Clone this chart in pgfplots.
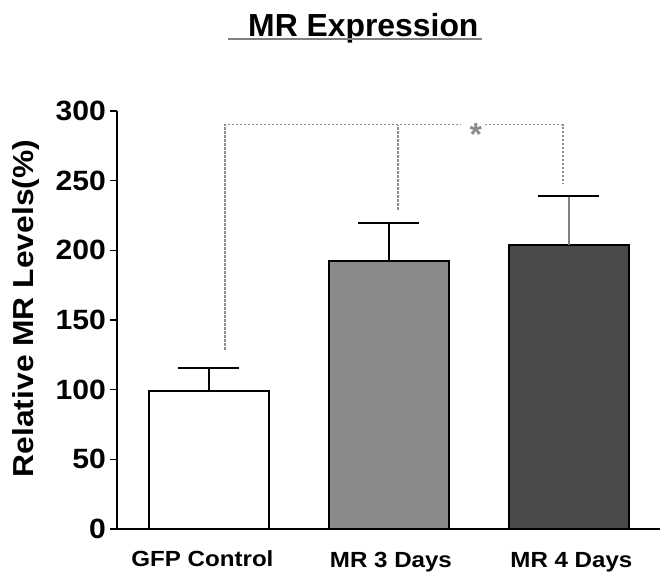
\documentclass[border=0pt]{standalone}
\usepackage{pgfplots}
\pgfplotsset{compat=1.18}
\usepackage{fontspec}
\setmainfont{Liberation Sans}
\usepackage{graphicx}
\definecolor{barmid}{HTML}{8A8A8A}
\definecolor{bardark}{HTML}{4A4A4A}
\definecolor{brk}{HTML}{8C8C8C}
\begin{document}
\begin{tikzpicture}
\begin{axis}[
  name=ax,
  scale only axis,
  width=543bp, height=418bp,
  xmin=-0.511, xmax=2.506,
  ymin=0, ymax=300,
  axis lines=left,
  axis line style={-, line width=2.6bp, black},
  clip=false,
  /pgf/number format/assume math mode=true,
  ytick={0,50,100,150,200,250,300},
  yticklabel={\scalebox{1.08}[1]{\pgfmathprintnumber{\tick}}},
  yticklabel style={font=\fontsize{28}{28}\selectfont\bfseries, inner sep=0pt, xshift=-4bp},
  tick align=outside,
  major tick length=7bp,
  ytick style={line width=1.4bp, black},
  xtick={0,1,2},
  xtick style={draw=none},
  xticklabels={{\raisebox{1.5bp}{\scalebox{1.1}[1]{GFP Control}}\kern13bp},{\scalebox{1.1}[1]{MR 3 Days}\kern-4bp},{\kern5bp\scalebox{1.1}[1]{MR 4 Days}}},
  xticklabel style={font=\fontsize{22}{22}\selectfont\bfseries, anchor=base, inner sep=0pt, yshift=-31.5bp},
  ylabel={\scalebox{1.1}[1]{Relative MR Levels(\%)}},
  ylabel style={font=\fontsize{29}{29}\selectfont\bfseries, at={(axis description cs:-0.1676,0.5275)}, anchor=center, rotate=0},
]
% bars
\addplot[ybar, bar width=0.667, bar shift=0pt, fill=white, draw=black, line width=1.2bp,
  error bars/.cd, y dir=plus, y explicit, error mark=|,
  error bar style={line width=1.4bp, black},
  error mark options={line width=1.8bp, mark size=30.5bp, black}]
  coordinates {(0,99.0) +- (0,16.6)};
\addplot[ybar, bar width=0.667, bar shift=0pt, fill=barmid, draw=black, line width=1.2bp,
  error bars/.cd, y dir=plus, y explicit, error mark=|,
  error bar style={line width=1.4bp, black},
  error mark options={line width=1.8bp, mark size=30.5bp, black}]
  coordinates {(1,192.3) +- (0,27.3)};
\addplot[ybar, bar width=0.667, bar shift=0pt, fill=bardark, draw=black, line width=1.2bp,
  error bars/.cd, y dir=plus, y explicit, error mark=|,
  error bar style={line width=1.4bp, gray},
  error mark options={line width=1.8bp, mark size=30.5bp, black}]
  coordinates {(2,203.8) +- (0,35.2)};
% significance bracket
\addplot[brk, line width=1.1bp, dash pattern=on 2.5bp off 1.5bp, no markers]
  coordinates {(0.089,128.5) (0.089,290) (1.40,290)};
\addplot[brk, line width=1.1bp, dash pattern=on 2.5bp off 1.5bp, no markers]
  coordinates {(1.05,229) (1.05,290)};
\addplot[brk, line width=1.1bp, dash pattern=on 2.5bp off 1.5bp, no markers]
  coordinates {(1.533,290) (1.967,290) (1.967,248)};
\node[anchor=base, text=brk, inner sep=0pt, font=\fontsize{32}{32}\selectfont\bfseries] at (axis cs:1.483,275) {*};
\end{axis}
% title
\node[anchor=base west, inner sep=0pt, font=\fontsize{32}{32}\selectfont\bfseries] at ([shift={(131bp,492bp)}]ax.south west) {MR Expression};
\draw[gray, line width=1.5bp] ([shift={(111bp,490bp)}]ax.south west) -- ([shift={(365bp,490bp)}]ax.south west);
\pgfresetboundingbox
\path[use as bounding box] ([shift={(-117bp,-43bp)}]ax.south west) rectangle ++(660bp,572bp);
\end{tikzpicture}
\end{document}
